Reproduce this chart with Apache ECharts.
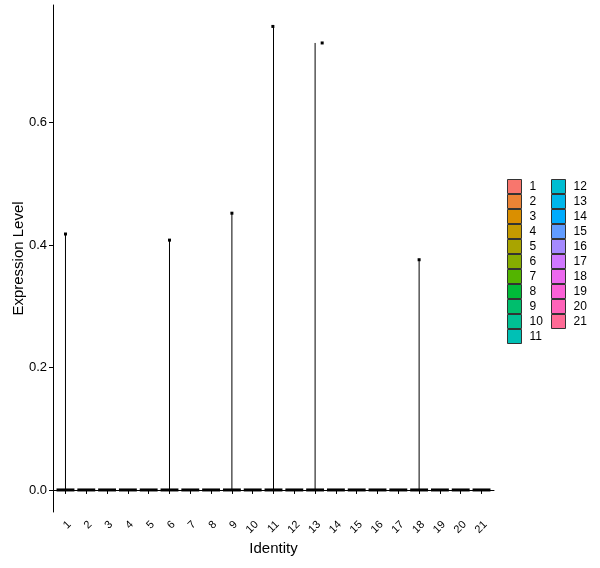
<!DOCTYPE html>
<html>
<head>
<meta charset="utf-8">
<script src="https://cdn.jsdelivr.net/npm/echarts@6/dist/echarts.min.js"></script>
<style>
    html, body { margin: 0; padding: 0; background: #fff; }
    #main { width: 600px; height: 568px; }
</style>
</head>
<body>
<div id="main"></div>
<script>
// clusters and the highest expression seen in each one
var identities = ['1', '2', '3', '4', '5', '6', '7', '8', '9', '10', '11',
    '12', '13', '14', '15', '16', '17', '18', '19', '20', '21'];
var maxExpr = [0.418, 0, 0, 0, 0, 0.408, 0, 0, 0.452, 0, 0.757,
    0, 0.73, 0, 0, 0, 0, 0.376, 0, 0, 0];
// horizontal jitter of the top point (in cluster units)
var topJitter = [0, 0, 0, 0, 0, 0, 0, 0, 0, 0, -0.03,
    0, 0.34, 0, 0, 0, 0, 0, 0, 0, 0];
var yTicks = [0, 0.2, 0.4, 0.6];

// ggplot default hue palette (hcl, c=100, l=65)
function hcl(h, c, l) {
    var rad = h * Math.PI / 180, u = c * Math.cos(rad), v = c * Math.sin(rad);
    var Xn = 95.047, Yn = 100, Zn = 108.883;
    var un = 4 * Xn / (Xn + 15 * Yn + 3 * Zn), vn = 9 * Yn / (Xn + 15 * Yn + 3 * Zn);
    var Y = Yn * Math.pow((l + 16) / 116, 3);
    var up = u / (13 * l) + un, vp = v / (13 * l) + vn;
    var X = 9 * Y * up / (4 * vp), Z = Y * (12 - 3 * up - 20 * vp) / (4 * vp);
    X /= 100; Y /= 100; Z /= 100;
    var rgb = [
        3.240479 * X - 1.537150 * Y - 0.498535 * Z,
        -0.969256 * X + 1.875992 * Y + 0.041556 * Z,
        0.055648 * X - 0.204043 * Y + 1.057311 * Z
    ].map(function (t) {
        t = t <= 0.0031308 ? 12.92 * t : 1.055 * Math.pow(t, 1 / 2.4) - 0.055;
        t = Math.max(0, Math.min(1, t));
        var s = Math.round(t * 255).toString(16);
        return s.length < 2 ? '0' + s : s;
    });
    return '#' + rgb.join('');
}
var colors = identities.map(function (d, i) {
    return hcl(15 + i * 360 / 21, 100, 65);
});

var renderSpike = function (params, api) {
    var x = api.value(0), v = api.value(1), j = api.value(2);
    var base = api.coord([x, 0]);
    var top = api.coord([x, v]);
    var band = api.size([1, 0])[0];
    var half = band * 0.43;
    var children = [{
        type: 'rect',
        shape: { x: base[0] - half, y: base[1] - 1.5, width: half * 2, height: 3 },
        style: { fill: '#000' }
    }];
    if (v > 0) {
        children.push({
            type: 'line',
            shape: { x1: base[0], y1: base[1], x2: top[0], y2: top[1] },
            style: { stroke: '#000', lineWidth: 1 }
        });
        children.push({
            type: 'rect',
            shape: { x: top[0] + j * band - 1.5, y: top[1] - 1.5, width: 3, height: 3 },
            style: { fill: '#000' }
        });
    }
    return { type: 'group', children: children };
};

var series = identities.map(function (name, i) {
    return {
        name: name,
        type: 'custom',
        color: colors[i],
        renderItem: renderSpike,
        data: [[i + 1, maxExpr[i], topJitter[i]]]
    };
});

var font = 'Liberation Sans, Arial, sans-serif';
var xTicks = identities.map(function (d, i) { return i + 1; });

// legend split in two columns like the ggplot guide
var legendCol = function (left, names) {
    return {
        orient: 'vertical',
        left: left,
        top: 179,
        padding: 0,
        itemWidth: 14,
        itemHeight: 14,
        itemGap: 0,
        icon: 'rect',
        itemStyle: { borderColor: '#333', borderWidth: 1 },
        textStyle: { fontSize: 12, color: '#000', fontFamily: font, padding: [0, 0, 0, 3] },
        data: names
    };
};

var myChart = echarts.init(document.getElementById('main'));
var option = {
    animation: false,
    grid: { left: 53, right: 106, top: 5, bottom: 56, outerBoundsMode: 'none', containLabel: false },
    xAxis: {
        type: 'value',
        min: 0.4,
        max: 21.6,
        name: 'Identity',
        nameLocation: 'middle',
        nameGap: 29,
        nameMoveOverlap: false,
        nameTextStyle: { fontSize: 15, color: '#000', fontFamily: font },
        splitLine: { show: false },
        axisLine: { lineStyle: { color: '#000', width: 1 } },
        axisTick: { length: 4, lineStyle: { color: '#000' }, customValues: xTicks },
        axisLabel: {
            rotate: 45,
            margin: 7,
            verticalAlign: 'top',
            fontSize: 11,
            color: '#000',
            fontFamily: font,
            customValues: xTicks,
            formatter: function (v) { return identities[Math.round(v) - 1]; }
        }
    },
    yAxis: {
        type: 'value',
        min: -0.036,
        max: 0.792,
        name: 'Expression Level',
        nameLocation: 'middle',
        nameGap: 27,
        nameMoveOverlap: false,
        nameTextStyle: { fontSize: 15, color: '#000', fontFamily: font },
        splitLine: { show: false },
        axisLine: { show: true, lineStyle: { color: '#000', width: 1 } },
        axisTick: { show: true, length: 4, lineStyle: { color: '#000' }, customValues: yTicks },
        axisLabel: {
            fontSize: 13,
            color: '#000',
            margin: 6,
            fontFamily: font,
            customValues: yTicks,
            formatter: function (v) { return v.toFixed(1); }
        }
    },
    legend: [
        legendCol(507, identities.slice(0, 11)),
        legendCol(551, identities.slice(11))
    ],
    series: series
};
myChart.setOption(option);
</script>
</body>
</html>
